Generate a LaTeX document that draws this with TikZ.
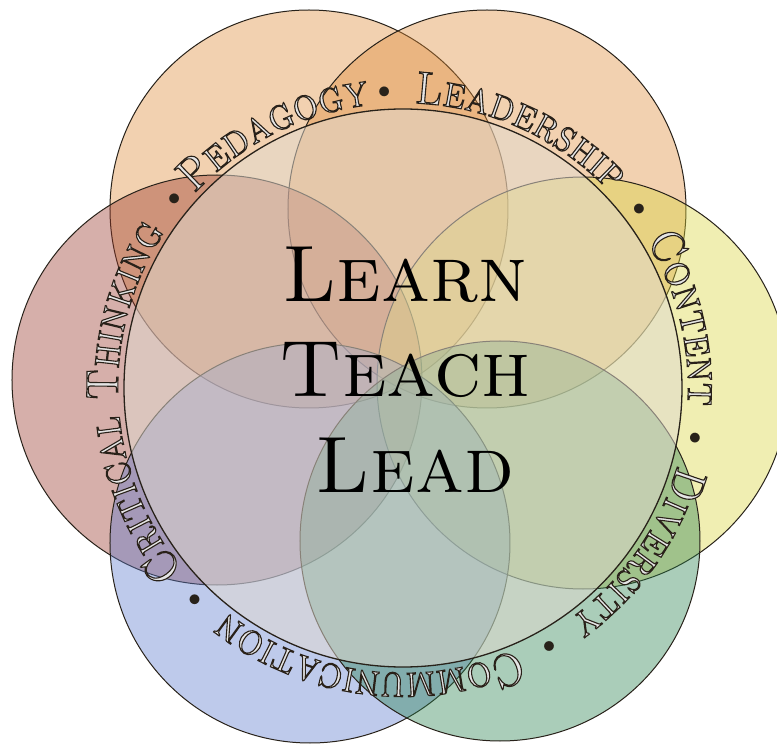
\documentclass[tikz,border=0pt]{standalone}
\usepackage{fontspec}
\usetikzlibrary{decorations.text}

\definecolor{peach}{RGB}{222,140,58}
\definecolor{rosy}{RGB}{153,55,42}
\definecolor{lemon}{RGB}{217,212,62}
\definecolor{sea}{RGB}{42,130,80}
\definecolor{lavender}{RGB}{92,122,205}
\definecolor{haze}{RGB}{225,218,208}
\definecolor{rim}{RGB}{40,34,26}

% narrow small caps for the ring
\newfontfamily\ringfam{lmromancaps10-regular.otf}[FakeStretch=0.86]
% outlined letters: light fill, dark stroke
\newcommand{\ringpaint}{\ringfam\fontsize{46}{46}\selectfont\color{white!90!black}\special{pdf:literal direct 2 Tr 0.16 0.13 0.10 RG 1.1 w}}
\newcommand{\ringdot}{\normalfont\fontsize{44}{44}\selectfont\color{rim}}
\newcommand{\plaintext}{\special{pdf:literal direct 0 Tr}}

\tikzset{
  petal/.style={draw=rim, line width=1pt, fill opacity=0.4},
  hub/.style={draw=rim, line width=1.3pt, fill=haze, fill opacity=0.52},
  motto/.style={font=\plaintext\fontsize{80}{80}\selectfont\scshape, anchor=base, inner sep=0pt}
}

\begin{document}
\begin{tikzpicture}[x=1pt,y=1pt]
	\useasboundingbox (-403,-359) rectangle (374,388);
	
	%Top petals
	\draw[petal, fill=peach] (-94,179) circle (199);
	\draw[petal, fill=peach] (84,179) circle (199);
	
	%Side petals
	\draw[petal, fill=rosy] (-186,8) circle (205);
	\draw[petal, fill=lemon] (180,5) circle (206);
	
	%Bottom petals
	\draw[petal, fill=lavender] (-93,-155) circle (200);
	\draw[petal, fill=sea] (97,-153) circle (200);
	
	%Hub
	\draw[hub] (0,0) circle (279);
	
	%Ring of words
	\path[decorate, decoration={text along path, text align=fit to path,
			text={|\ringpaint|Pedagogy|\ringdot|• |\ringpaint|Leadership |\ringdot|• |\ringpaint|Content |\ringdot|• |\ringpaint|Diversity |\ringdot|• |\ringpaint|Communication |\ringdot|• |\ringpaint|Critical Thinking |\ringdot|•}}]
		(137:285) arc[start angle=137, end angle=-220, radius=285];
	
	%Motto
	\node[motto] (learn) at (2,86) {Learn};
	\node[motto] (teach) at (2,-9) {Teach};
	\node[motto] (lead) at (12,-104) {Lead};
	
\end{tikzpicture}
\end{document}
